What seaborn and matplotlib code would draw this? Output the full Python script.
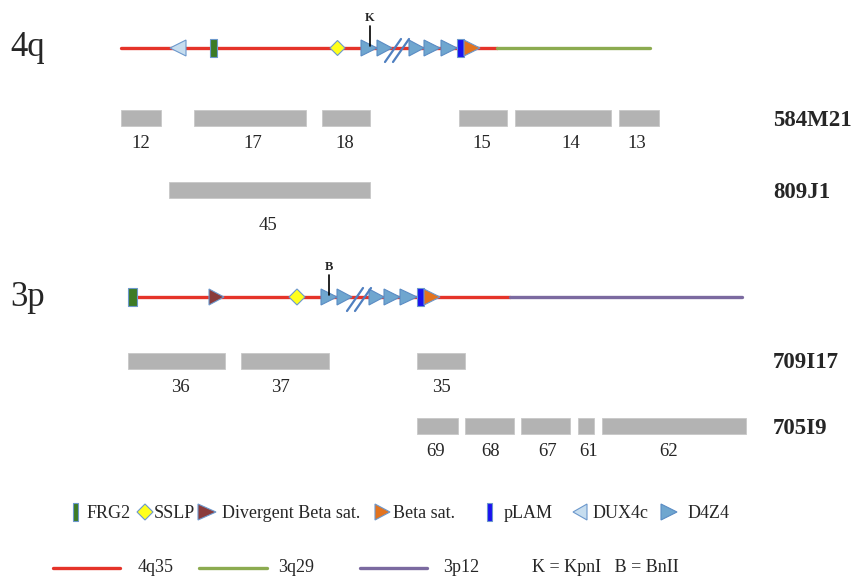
import matplotlib
matplotlib.use("Agg")
import matplotlib.pyplot as plt
from matplotlib.patches import Polygon, Rectangle
import seaborn as sns
import pandas as pd

# ---- data (pixel units, y grows downward) ----
# chromosome backbones: (start, end, band)
q4_segments = [(121, 497, "4q35"), (497, 650, "3q29")]
p3_segments = [(137, 510, "4q35"), (510, 742, "3p12")]

# features along each chromosome: (kind, start, end)
q4_features = [("DUX4c", 170, 186), ("FRG2", 210, 217), ("SSLP", 330, 345),
               ("D4Z4", 361, 377), ("D4Z4", 377, 392),
               ("D4Z4", 409, 424), ("D4Z4", 424, 440), ("D4Z4", 441, 457),
               ("pLAM", 457, 464), ("Beta sat.", 464, 480)]
p3_features = [("FRG2", 128, 137), ("Divergent Beta sat.", 209, 224), ("SSLP", 289, 305),
               ("D4Z4", 321, 337), ("D4Z4", 337, 352),
               ("D4Z4", 369, 384), ("D4Z4", 384, 400), ("D4Z4", 400, 417),
               ("pLAM", 417, 424), ("Beta sat.", 424, 440)]
q4_break = 397
p3_break = 359
q4_site = ("K", 370)
p3_site = ("B", 329)

# BAC fragments: clone -> fragment names, starts, ends, label x
clone_584M21 = dict(names=["12", "17", "18", "15", "14", "13"],
                    start=[121, 194, 322, 459, 515, 619],
                    end=[161, 306, 370, 507, 611, 659],
                    label_x=[141, 253, 345, 482, 571, 637])
clone_809J1 = dict(names=["45"], start=[169], end=[370], label_x=[268])
clone_709I17 = dict(names=["36", "37", "35"], start=[128, 241, 417],
                    end=[225, 329, 465], label_x=[180, 280, 441])
clone_705I9 = dict(names=["69", "68", "67", "61", "62"],
                   start=[417, 465, 521, 578, 602],
                   end=[458, 514, 570, 594, 746],
                   label_x=[436, 491, 548, 589, 669])

legend_items = ["FRG2", "SSLP", "Divergent Beta sat.", "Beta sat.", "pLAM", "DUX4c", "D4Z4"]
band_items = ["4q35", "3q29", "3p12"]

colors = {
    "4q35": "#e53329", "3q29": "#8cab50", "3p12": "#7b6aa0",
    "FRG2": "#3d7b25", "SSLP": "#ffff1a", "Divergent Beta sat.": "#8a3b3b",
    "Beta sat.": "#e2731f", "pLAM": "#1a12f0", "DUX4c": "#c6ddef", "D4Z4": "#6fa6cf",
}
edge = "#6c98cc"

sns.set_style("white")
plt.rcParams['font.family'] = ['Liberation Serif', 'DejaVu Serif']

fig = plt.figure(figsize=(8.57, 5.79), dpi=100)
ax = fig.add_axes([0, 0, 1, 1])
ax.set_xlim(0, 857)
ax.set_ylim(579, 0)
ax.axis('off')


def draw_feature(kind, x0, x1, y, h=8):
    c = colors[kind]
    if kind in ("FRG2", "pLAM"):
        ax.add_patch(Rectangle((x0, y - h - 1), x1 - x0, 2 * h + 2, fc=c, ec=edge, lw=0.8, zorder=4))
    elif kind == "SSLP":
        xc = (x0 + x1) / 2
        hw = (x1 - x0) / 2
        ax.add_patch(Polygon([(x0, y), (xc, y - hw), (x1, y), (xc, y + hw)],
                             closed=True, fc=c, ec=edge, lw=0.8, zorder=4))
    elif kind == "DUX4c":
        ax.add_patch(Polygon([(x1, y - h), (x1, y + h), (x0, y)],
                             closed=True, fc=c, ec=edge, lw=0.8, zorder=4))
    else:
        ec = edge if kind != "D4Z4" else "#5b8cc4"
        ax.add_patch(Polygon([(x0, y - h), (x0, y + h), (x1, y)],
                             closed=True, fc=c, ec=ec, lw=0.8, zorder=4))


def draw_chrom(segments, features, brk, site, y, name):
    for s, e, band in segments:
        df = pd.DataFrame({"x": [s, e], "y": [y, y]})
        sns.lineplot(data=df, x="x", y="y", color=colors[band], lw=2.4, ax=ax, zorder=2)
    for kind, s, e in features:
        draw_feature(kind, s, e, y)
    # break mark //
    for dx in (-4, 4):
        ax.plot([brk + dx - 8, brk + dx + 8], [y + 14, y - 9], color="#4f7fc0", lw=1.6, zorder=5)
    lab, sx = site
    ax.plot([sx, sx], [y - 22, y - 2], color="black", lw=1.2, zorder=5)
    ax.text(sx, y - 30, lab, ha="center", va="center", fontsize=9, fontweight="bold")
    ax.text(10, y, name, ha="left", va="center", fontsize=25)


def draw_clone(clone, y, name, label_y):
    widths = [e - s for s, e in zip(clone["start"], clone["end"])]
    ax.barh([y] * len(widths), widths, left=clone["start"], height=16,
            color="#b3b3b3", edgecolor="#c8c8c8", lw=0.6, zorder=3)
    for n, lx in zip(clone["names"], clone["label_x"]):
        ax.text(lx, label_y, n, ha="center", va="center", fontsize=13.5)
    ax.text(773, y + 2, name, ha="left", va="center", fontsize=16.5, fontweight="bold")


draw_chrom(q4_segments, q4_features, q4_break, q4_site, 48, "4q")
draw_chrom(p3_segments, p3_features, p3_break, p3_site, 297, "3p")

draw_clone(clone_584M21, 118, "584M21", 143)
draw_clone(clone_809J1, 190, "809J1", 225)
draw_clone(clone_709I17, 361, "709I17", 388)
draw_clone(clone_705I9, 426, "705I9", 452)

# legend row 1: symbol start, symbol end, text start
leg_sym = [(73, 78), (137, 153), (198, 216), (375, 390), (487, 492), (573, 587), (661, 677)]
leg_txt = [87, 154, 222, 393, 504, 593, 688]
for item, (s, e), tx in zip(legend_items, leg_sym, leg_txt):
    draw_feature(item, s, e, 512)
    ax.text(tx, 513, item, ha="left", va="center", fontsize=13)

# legend row 2
band_line = [(53, 120), (199, 267), (360, 427)]
band_txt = [138, 278, 443]
for band, (s, e), tx in zip(band_items, band_line, band_txt):
    ax.plot([s, e], [568, 568], color=colors[band], lw=2.4)
    ax.text(tx, 568, band, ha="left", va="center", fontsize=13)
ax.text(532, 568, "K = KpnI   B = BnII", ha="left", va="center", fontsize=13)

fig.savefig("out.png", dpi=100)
